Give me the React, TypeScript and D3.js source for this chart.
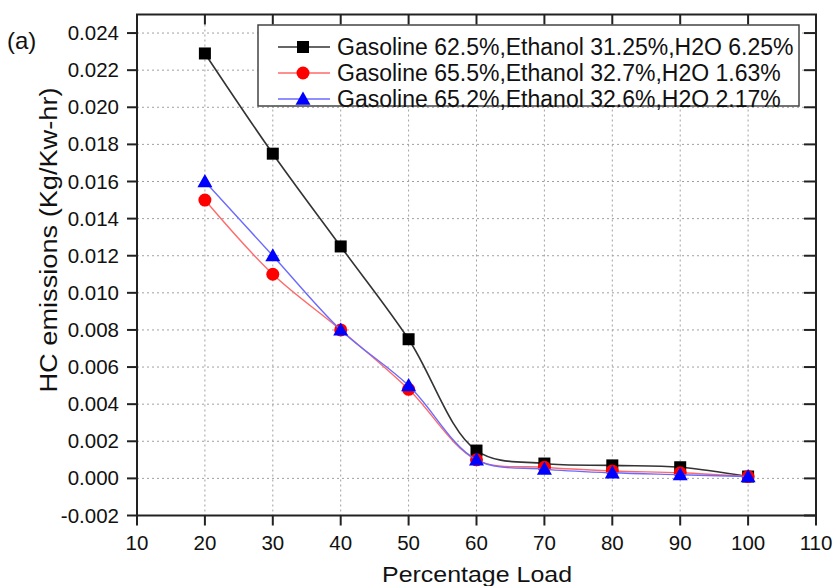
import React from "react";
import * as d3 from "d3";

const loads = [20, 30, 40, 50, 60, 70, 80, 90, 100];
const seriesBlack = [0.0229, 0.0175, 0.0125, 0.0075, 0.0015, 0.0008, 0.0007, 0.0006, 0.0001];
const seriesRed = [0.015, 0.011, 0.008, 0.0048, 0.001, 0.0006, 0.0004, 0.0003, 0.0001];
const seriesBlue = [0.016, 0.012, 0.008, 0.005, 0.001, 0.0005, 0.0003, 0.0002, 0.0001];
const seriesNames = [
  "Gasoline 62.5%,Ethanol 31.25%,H2O 6.25%",
  "Gasoline 65.5%,Ethanol 32.7%,H2O 1.63%",
  "Gasoline 65.2%,Ethanol 32.6%,H2O 2.17%",
];
const xTicks = [10, 20, 30, 40, 50, 60, 70, 80, 90, 100, 110];
const yTicks = [-0.002, 0, 0.002, 0.004, 0.006, 0.008, 0.01, 0.012, 0.014, 0.016, 0.018, 0.02, 0.022, 0.024];

const W = 835;
const H = 586;
const L = 137, R = 816, T = 14.5, B = 515.5;

const FONT = "'Liberation Sans', Arial, sans-serif";

function Marker({ kind, x, y, color }: { kind: string; x: number; y: number; color: string }) {
  if (kind === "square") return <rect x={x - 6} y={y - 6} width={12} height={12} fill={color} />;
  if (kind === "circle") return <circle cx={x} cy={y} r={6.5} fill={color} />;
  const s = 7.5;
  return <path d={`M${x},${y - s}L${x + s},${y + s * 0.75}L${x - s},${y + s * 0.75}Z`} fill={color} />;
}

export default function App() {
  const x = d3.scaleLinear().domain([10, 110]).range([L, R]);
  const y = d3.scaleLinear().domain([-0.002, 0.025]).range([B, T]);
  const line = d3
    .line<[number, number]>()
    .x((d) => x(d[0]))
    .y((d) => y(d[1]))
    .curve(d3.curveCatmullRom.alpha(0.5));

  const series = [
    { name: seriesNames[0], vals: seriesBlack, lineColor: "#333", color: "#000", kind: "square", lw: 1.6 },
    { name: seriesNames[1], vals: seriesRed, lineColor: "#ff6a6a", color: "#ff0000", kind: "circle", lw: 1.4 },
    { name: seriesNames[2], vals: seriesBlue, lineColor: "#6a6aff", color: "#0000ff", kind: "triangle", lw: 1.4 },
  ];

  const gridX = xTicks.filter((t) => t > 10 && t < 110);
  const gridY = yTicks.filter((t) => t > -0.002);

  const legX = 258, legY = 25, legW = 541, legH = 81;
  const rowY = [47, 73, 99];

  return (
    <div style={{ position: "absolute", left: 0, top: 0 }}>
      <svg width={W} height={H} style={{ display: "block", background: "#fff" }} fontFamily={FONT}>
        {/* grid */}
        {gridX.map((t) => (
          <line key={"gx" + t} x1={x(t)} x2={x(t)} y1={T} y2={B} stroke="#a0a0a0" strokeWidth={1} strokeDasharray="2,3" />
        ))}
        {gridY.map((t) => (
          <line key={"gy" + t} x1={L} x2={R} y1={y(t)} y2={y(t)} stroke="#a0a0a0" strokeWidth={1} strokeDasharray="2,3" />
        ))}

        {/* series */}
        {series.map((s, i) => (
          <g key={"s" + i}>
            <path
              d={line(loads.map((l, j) => [l, s.vals[j]] as [number, number])) || ""}
              fill="none"
              stroke={s.lineColor}
              strokeWidth={s.lw}
            />
            {loads.map((l, j) => (
              <Marker key={j} kind={s.kind} x={x(l)} y={y(s.vals[j])} color={s.color} />
            ))}
          </g>
        ))}

        {/* frame */}
        <rect x={L} y={T} width={R - L} height={B - T} fill="none" stroke="#222" strokeWidth={2} />
        {xTicks.map((t) => (
          <g key={"xt" + t}>
            <line x1={x(t)} x2={x(t)} y1={B} y2={B + 10} stroke="#222" strokeWidth={2} />
            <line x1={x(t)} x2={x(t)} y1={T} y2={T + 10} stroke="#222" strokeWidth={2} />
            <text x={x(t)} y={550} textAnchor="middle" fontSize={20.5} fill="#111">
              {t}
            </text>
          </g>
        ))}
        {yTicks.map((t) => (
          <g key={"yt" + t}>
            <line x1={L - 10} x2={L} y1={y(t)} y2={y(t)} stroke="#222" strokeWidth={2} />
            <line x1={R - 12} x2={R} y1={y(t)} y2={y(t)} stroke="#222" strokeWidth={2} />
            <text x={119} y={y(t) + 7} textAnchor="end" fontSize={20.5} fill="#111">
              {d3.format(".3f")(t).replace("−", "-")}
            </text>
          </g>
        ))}

        {/* legend */}
        <rect x={legX} y={legY} width={legW} height={legH} fill="#fff" stroke="#444" strokeWidth={1.5} />
        {series.map((s, i) => (
          <g key={"lg" + i}>
            <line x1={278} x2={330} y1={rowY[i]} y2={rowY[i]} stroke={s.lineColor} strokeWidth={s.lw} />
            <Marker kind={s.kind} x={303} y={rowY[i]} color={s.color} />
            <text x={337} y={rowY[i] + 8} fontSize={23} fill="#111">
              {s.name}
            </text>
          </g>
        ))}

        {/* titles */}
        <text x={477} y={582} textAnchor="middle" fontSize={22} fill="#111" textLength={190} lengthAdjust="spacingAndGlyphs">
          Percentage Load
        </text>
        <text
          transform={`translate(57,240) rotate(-90)`}
          textAnchor="middle"
          fontSize={23}
          fill="#111"
          textLength={305}
          lengthAdjust="spacingAndGlyphs"
        >
          HC emissions (Kg/Kw-hr)
        </text>
        <text x={7} y={49} fontSize={24} fill="#111">
          (a)
        </text>
      </svg>
    </div>
  );
}
